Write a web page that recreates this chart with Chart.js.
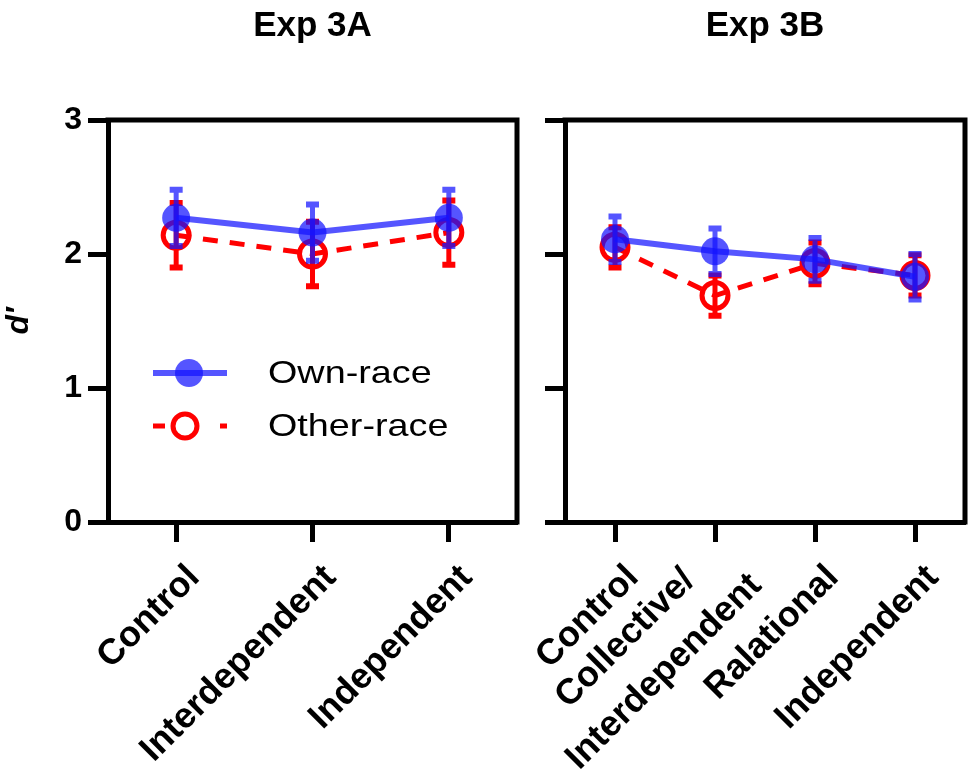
<!DOCTYPE html>
<html>
<head>
<meta charset="utf-8">
<script src="https://cdn.jsdelivr.net/npm/chart.js@4.4.1/dist/chart.umd.min.js"></script>
<style>
  html, body { margin: 0; padding: 0; background: #fff; }
  #wrap { position: relative; width: 974px; height: 783px; }
  .panel { position: absolute; top: 0; height: 783px; }
</style>
</head>
<body>
<div id="wrap">
  <div class="panel" style="left:0;width:525px"><canvas id="chartA"></canvas></div>
  <div class="panel" style="left:530px;width:444px"><canvas id="chartB"></canvas></div>
</div>
<script>
// Exp 3A
const labelsA = ['Control', 'Interdependent', 'Independent'];
const ownA = [2.27, 2.16, 2.27];
const ownErrA = [0.21, 0.21, 0.21];
const otherA = [2.14, 2.00, 2.16];
const otherErrA = [0.24, 0.24, 0.24];

// Exp 3B
const labelsB = ['Control', ['Collective/', 'Interdependent'], 'Ralational', 'Independent'];
const ownB = [2.11, 2.02, 1.96, 1.83];
const ownErrB = [0.17, 0.17, 0.16, 0.17];
const otherB = [2.05, 1.69, 1.93, 1.84];
const otherErrB = [0.15, 0.15, 0.155, 0.15];

const yTicks = [0, 1, 2, 3];

const FONT = '"Liberation Sans", Arial, Helvetica, sans-serif';
const BLUE = 'rgba(20, 20, 255, 0.72)';
const RED = '#ff0000';

// error bars drawn right after each dataset, so blue ends up on top of red
const errorBars = {
  id: 'errorBars',
  afterDatasetDraw(chart, args) {
    const ds = chart.data.datasets[args.index];
    if (!ds.errors) return;
    const y = chart.scales.y;
    const ctx = chart.ctx;
    ctx.save();
    ctx.fillStyle = ds.borderColor;
    ctx.beginPath();
    args.meta.data.forEach((pt, i) => {
      const top = y.getPixelForValue(ds.data[i] + ds.errors[i]);
      const bot = y.getPixelForValue(ds.data[i] - ds.errors[i]);
      ctx.rect(pt.x - 2.5, top, 5, bot - top);
      ctx.rect(pt.x - 6.5, top - 3, 13, 6);
      ctx.rect(pt.x - 6.5, bot - 3, 13, 6);
    });
    ctx.fill();
    ctx.restore();
  }
};

// top and right sides of the box
const frame = {
  id: 'frame',
  afterDraw(chart) {
    const { ctx, chartArea: a } = chart;
    ctx.save();
    ctx.strokeStyle = '#000';
    ctx.lineWidth = 5;
    ctx.lineCap = 'square';
    ctx.beginPath();
    ctx.moveTo(a.left, a.top);
    ctx.lineTo(a.right, a.top);
    ctx.lineTo(a.right, a.bottom);
    ctx.stroke();
    ctx.restore();
  }
};

// 45 degree category labels, placed at the x scale's tick pixels
const xLabels = {
  id: 'xLabels',
  afterDraw(chart, args, opts) {
    const scale = chart.scales.x;
    const ctx = chart.ctx;
    ctx.save();
    ctx.font = 'bold 36px ' + FONT;
    ctx.fillStyle = '#000';
    ctx.textAlign = 'right';
    ctx.textBaseline = 'middle';
    chart.data.labels.forEach((label, i) => {
      const lines = Array.isArray(label) ? label : [label];
      const px = scale.getPixelForTick(i);
      const shifts = lines.length > 1 ? opts.multi : [opts.single];
      lines.forEach((text, j) => {
        ctx.save();
        ctx.translate(px + shifts[j][0], scale.top + shifts[j][1]);
        ctx.rotate(-Math.PI / 4);
        ctx.fillText(text, 0, 0);
        ctx.restore();
      });
    });
    ctx.restore();
  }
};

// legend inside the left panel
const insetLegend = {
  id: 'insetLegend',
  afterDraw(chart) {
    const { ctx, chartArea: a } = chart;
    const x0 = a.left + 45, x1 = a.left + 119, tx = a.left + 160;
    const ys = [a.top + 253, a.top + 306];
    ctx.save();
    chart.data.datasets.forEach((ds, i) => {
      const yy = ys[i];
      ctx.strokeStyle = ds.borderColor;
      ctx.lineWidth = ds.borderWidth;
      ctx.setLineDash(ds.borderDash.length ? [12, 55] : []);
      ctx.beginPath();
      ctx.moveTo(x0, yy);
      ctx.lineTo(x1, yy);
      ctx.stroke();
      ctx.setLineDash([]);
      ctx.beginPath();
      if (ds.pointBorderWidth > 0) {
        ctx.arc(a.left + 77, yy, ds.pointRadius - 1, 0, Math.PI * 2);
        ctx.lineWidth = ds.pointBorderWidth;
        ctx.strokeStyle = ds.pointBorderColor;
        ctx.stroke();
      } else {
        ctx.arc(a.left + 81, yy, ds.pointRadius, 0, Math.PI * 2);
        ctx.fillStyle = ds.pointBackgroundColor;
        ctx.fill();
      }
      ctx.save();
      ctx.translate(tx, yy + 1);
      ctx.scale(1.18, 1);
      ctx.fillStyle = '#000';
      ctx.font = '32px ' + FONT;
      ctx.textBaseline = 'middle';
      ctx.fillText(ds.label, 0, 0);
      ctx.restore();
    });
    ctx.restore();
  }
};

function makeDatasets(own, ownErr, other, otherErr) {
  return [
    {
      label: 'Own-race', data: own, errors: ownErr,
      borderColor: BLUE, borderWidth: 6, borderDash: [],
      pointRadius: 14, pointBackgroundColor: BLUE, pointBorderColor: BLUE, pointBorderWidth: 0,
      pointHoverRadius: 14
    },
    {
      label: 'Other-race', data: other, errors: otherErr,
      borderColor: RED, borderWidth: 5, borderDash: [15, 12],
      pointRadius: 13, pointBackgroundColor: 'rgba(0,0,0,0)', pointBorderColor: RED, pointBorderWidth: 5,
      pointHoverRadius: 13
    }
  ];
}

function makeChart(id, title, labels, datasets, opts) {
  const plugins = [errorBars, frame, xLabels];
  if (opts.legend) plugins.push(insetLegend);
  return new Chart(document.getElementById(id), {
    type: 'line',
    data: { labels: labels, datasets: datasets },
    plugins: plugins,
    options: {
      responsive: true,
      maintainAspectRatio: false,
      animation: false,
      layout: { autoPadding: false, padding: { left: 0, right: opts.padRight, top: 0, bottom: 0 } },
      plugins: {
        legend: { display: false },
        tooltip: { enabled: false },
        title: {
          display: true, text: title, color: '#000', fullSize: false,
          font: { family: FONT, size: 35, weight: 'bold' },
          padding: { top: 5, bottom: 73 }
        },
        xLabels: { single: [18, 50], multi: [[-26, 53], [41, 58]] }
      },
      scales: {
        x: {
          type: 'category',
          offset: true,
          grid: { offset: false, drawOnChartArea: false, drawTicks: true, tickLength: 20, tickWidth: 5, tickColor: '#000' },
          border: { display: true, color: '#000', width: 5 },
          ticks: { display: false, autoSkip: false },
          afterFit(scale) { scale.height = 261; }
        },
        y: {
          min: 0, max: 3,
          afterBuildTicks(scale) { scale.ticks = yTicks.map(v => ({ value: v })); },
          grid: { drawOnChartArea: false, drawTicks: true, tickLength: 20, tickWidth: 5, tickColor: '#000' },
          border: { display: true, color: '#000', width: 5 },
          ticks: {
            display: opts.yLabels, padding: 6, color: '#000',
            font: { family: FONT, size: 32, weight: 'bold' }
          },
          title: {
            display: opts.yLabels, text: 'd\u2032', color: '#000',
            font: { family: FONT, size: 32, weight: 'bold', style: 'italic' },
            padding: { top: 0, bottom: 0 }
          },
          afterFit(scale) { scale.width = opts.yWidth; }
        }
      }
    }
  });
}

makeChart('chartA', 'Exp 3A', labelsA, makeDatasets(ownA, ownErrA, otherA, otherErrA),
  { legend: true, yLabels: true, yWidth: 108, padRight: 8 });
makeChart('chartB', 'Exp 3B', labelsB, makeDatasets(ownB, ownErrB, otherB, otherErrB),
  { legend: false, yLabels: false, yWidth: 35, padRight: 9 });
</script>
</body>
</html>
